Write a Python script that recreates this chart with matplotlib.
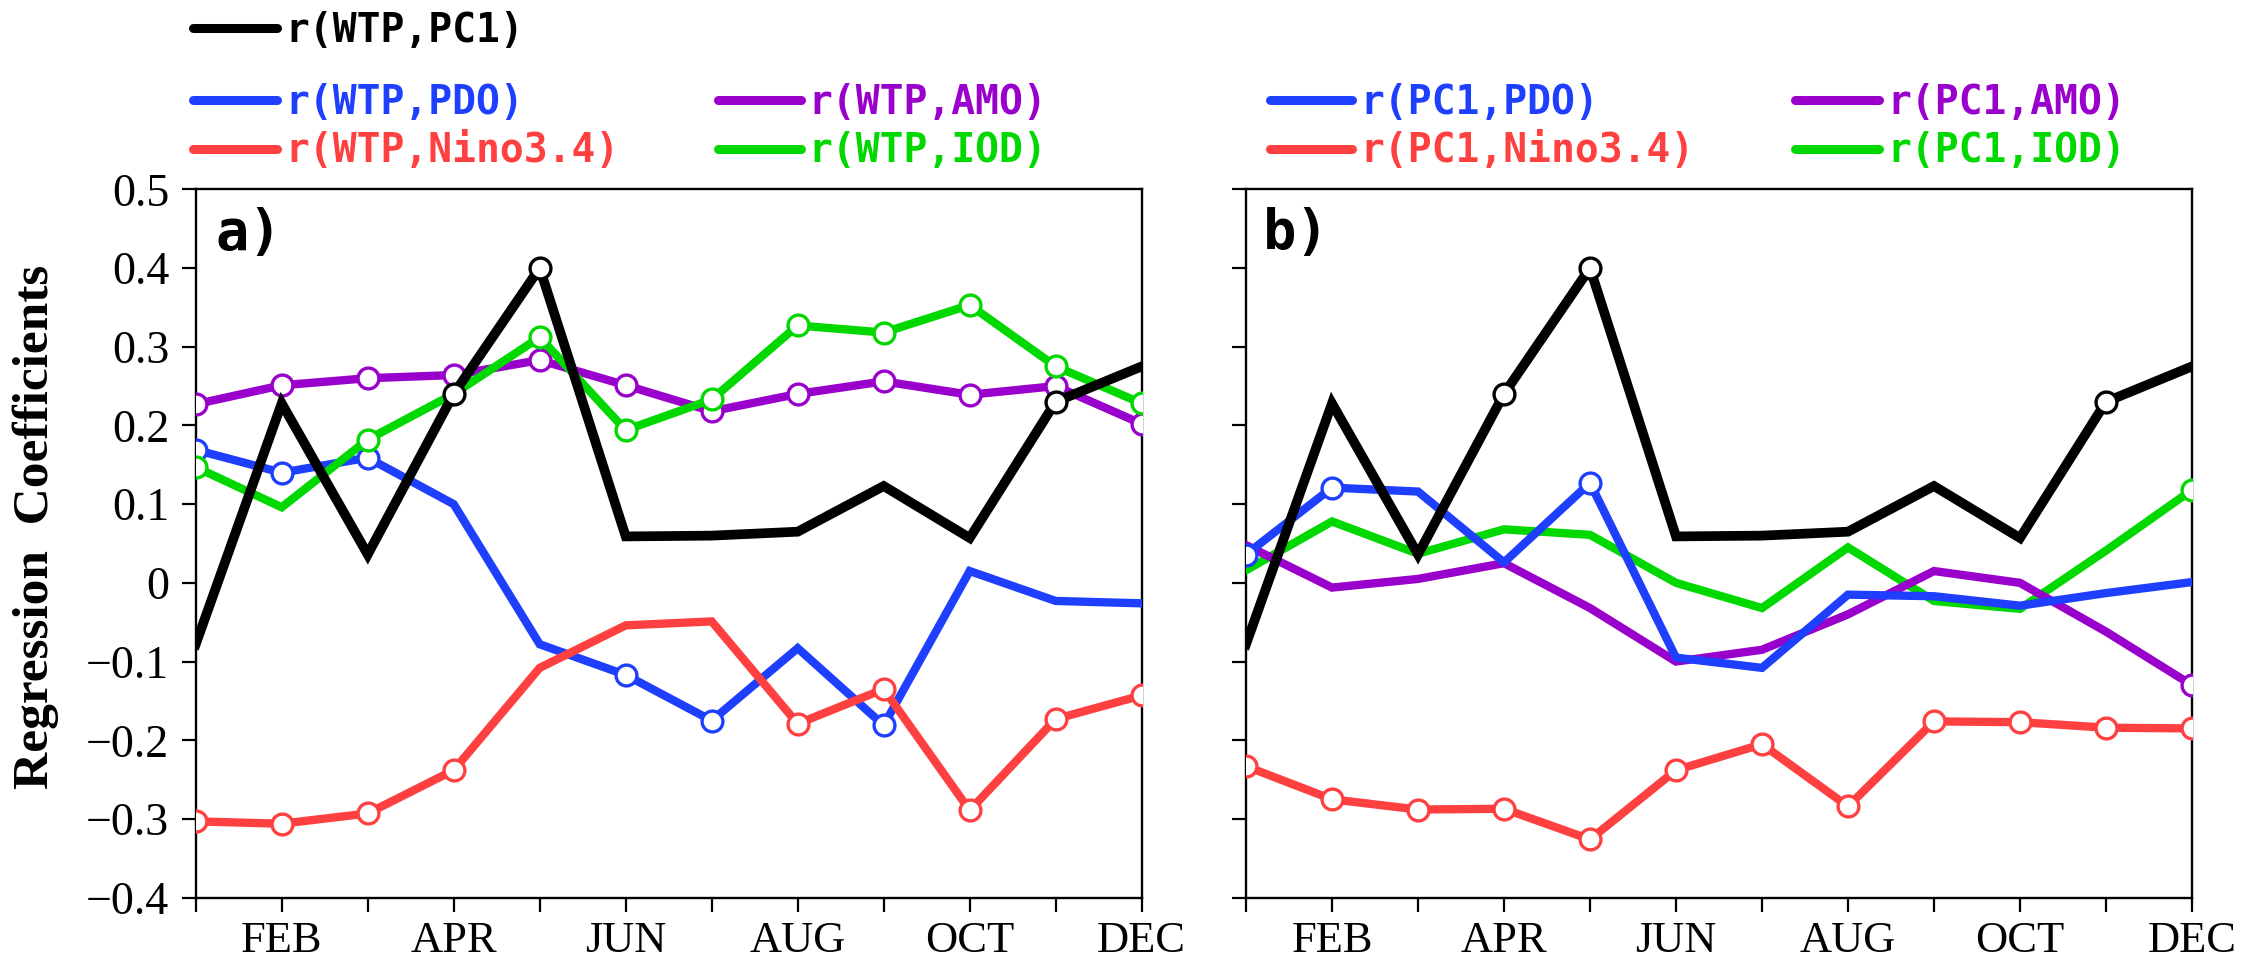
import numpy as np
import matplotlib
matplotlib.use('Agg')
import matplotlib.pyplot as plt
from matplotlib.lines import Line2D

# months 0..11 (JAN..DEC)
months = np.arange(12)
xticklabels = ['', 'FEB', '', 'APR', '', 'JUN', '', 'AUG', '', 'OCT', '', 'DEC']
yticks = [-0.4, -0.3, -0.2, -0.1, 0.0, 0.1, 0.2, 0.3, 0.4, 0.5]
yticklabels = ['\u22120.4', '\u22120.3', '\u22120.2', '\u22120.1', '0', '0.1', '0.2', '0.3', '0.4', '0.5']

# shared black curve
wtp_pc1 = [-0.078, 0.228, 0.036, 0.240, 0.400, 0.059, 0.060, 0.065, 0.123, 0.057, 0.230, 0.275]
pc1_sig = [3, 4, 10]

# panel a
wtp_pdo = [0.169, 0.140, 0.159, 0.100, -0.078, -0.117, -0.175, -0.083, -0.181, 0.015, -0.023, -0.026]
wtp_nino = [-0.303, -0.306, -0.293, -0.238, -0.108, -0.054, -0.049, -0.179, -0.135, -0.289, -0.173, -0.143]
wtp_amo = [0.227, 0.251, 0.260, 0.264, 0.283, 0.251, 0.218, 0.240, 0.256, 0.239, 0.250, 0.202]
wtp_iod = [0.147, 0.096, 0.182, 0.240, 0.312, 0.194, 0.233, 0.327, 0.318, 0.353, 0.275, 0.228]
wtp_pdo_sig = [0, 1, 2, 5, 6, 8]
wtp_nino_sig = [0, 1, 2, 3, 7, 8, 9, 10, 11]
wtp_amo_sig = list(range(12))
wtp_iod_sig = [0, 2, 4, 5, 6, 7, 8, 9, 10, 11]

# panel b
pc1_pdo = [0.036, 0.121, 0.116, 0.026, 0.127, -0.095, -0.108, -0.015, -0.017, -0.029, -0.013, 0.001]
pc1_nino = [-0.233, -0.275, -0.288, -0.287, -0.326, -0.238, -0.205, -0.284, -0.176, -0.177, -0.184, -0.185]
pc1_amo = [0.048, -0.006, 0.005, 0.025, -0.032, -0.100, -0.085, -0.040, 0.015, 0.000, -0.062, -0.130]
pc1_iod = [0.016, 0.078, 0.037, 0.068, 0.061, 0.000, -0.032, 0.045, -0.023, -0.033, 0.041, 0.118]
pc1_pdo_sig = [0, 1, 4]
pc1_nino_sig = list(range(12))
pc1_amo_sig = [11]
pc1_iod_sig = [11]

BLUE = '#1f3fff'
RED = '#ff4040'
PURPLE = '#9900cc'
GREEN = '#00d800'
BLACK = 'black'

W, H = 2246, 957
fig = plt.figure(figsize=(W / 100, H / 100), dpi=100)


def px(x, y):
    # pixel (top-left origin) -> figure fraction
    return x / W, 1 - y / H


ax_bottom = (H - 897.7) / H
ax_height = (897.7 - 189.3) / H
ax_width = 946 / W
axa = fig.add_axes([195.7 / W, ax_bottom, ax_width, ax_height])
axb = fig.add_axes([1246 / W, ax_bottom, ax_width, ax_height])


def draw(ax, series):
    for z, (vals, sig, col, lw) in enumerate(series):
        vals = np.array(vals)
        ax.plot(months, vals, color=col, lw=lw, zorder=3 + 2 * z, solid_joinstyle='miter')
        ax.plot(months[sig], vals[sig], 'o', ms=15, mfc='white', mec=col, mew=2.4, zorder=4 + 2 * z)


draw(axa, [(wtp_pdo, wtp_pdo_sig, BLUE, 6),
           (wtp_nino, wtp_nino_sig, RED, 6),
           (wtp_amo, wtp_amo_sig, PURPLE, 6),
           (wtp_iod, wtp_iod_sig, GREEN, 6),
           (wtp_pc1, pc1_sig, BLACK, 7)])
draw(axb, [(pc1_nino, pc1_nino_sig, RED, 6),
           (pc1_iod, pc1_iod_sig, GREEN, 6),
           (pc1_amo, pc1_amo_sig, PURPLE, 6),
           (pc1_pdo, pc1_pdo_sig, BLUE, 6),
           (wtp_pc1, pc1_sig, BLACK, 7)])

for ax in (axa, axb):
    ax.set_xlim(0, 11)
    ax.set_ylim(-0.4, 0.5)
    ax.set_xticks(months)
    ax.set_xticklabels(xticklabels, fontsize=32, family='Liberation Serif')
    ax.set_yticks(yticks)
    ax.tick_params(direction='out', length=10, width=1.6, pad=7, top=False, right=False)
    for s in ax.spines.values():
        s.set_linewidth(1.7)
axa.set_yticklabels(yticklabels, fontsize=33, family='Liberation Serif')
axb.set_yticklabels([])
axa.tick_params(axis='y', pad=9)

# panel labels
fig.text(*px(215, 233), 'a)', fontsize=40, family='DejaVu Sans Mono', weight='bold', va='center', ha='left')
fig.text(*px(1263, 233), 'b)', fontsize=40, family='DejaVu Sans Mono', weight='bold', va='center', ha='left')

# y label
fig.text(*px(36, 527), 'Regression  Coefficients', rotation=90, fontsize=37,
         family='Liberation Serif', weight='bold', va='center', ha='center')

# legends
legend_items = [
    (193, 277, 285, 28, 'r(WTP,PC1)', BLACK),
    (193, 277, 285, 100, 'r(WTP,PDO)', BLUE),
    (718, 801, 808, 100, 'r(WTP,AMO)', PURPLE),
    (193, 277, 285, 149, 'r(WTP,Nino3.4)', RED),
    (718, 801, 808, 149, 'r(WTP,IOD)', GREEN),
    (1270, 1352, 1360, 100, 'r(PC1,PDO)', BLUE),
    (1795, 1879, 1887, 100, 'r(PC1,AMO)', PURPLE),
    (1270, 1352, 1360, 149, 'r(PC1,Nino3.4)', RED),
    (1795, 1879, 1887, 149, 'r(PC1,IOD)', GREEN),
]
for x1, x2, xt, y, label, col in legend_items:
    (fx1, fy), (fx2, _) = px(x1, y), px(x2, y)
    fig.add_artist(Line2D([fx1, fx2], [fy, fy], color=col, lw=6.5, solid_capstyle='round',
                          transform=fig.transFigure))
    fig.text(*px(xt, y + 2), label, color=col, fontsize=28.5, family='DejaVu Sans Mono',
             weight='bold', va='center', ha='left')

fig.savefig('out.png', dpi=100)
